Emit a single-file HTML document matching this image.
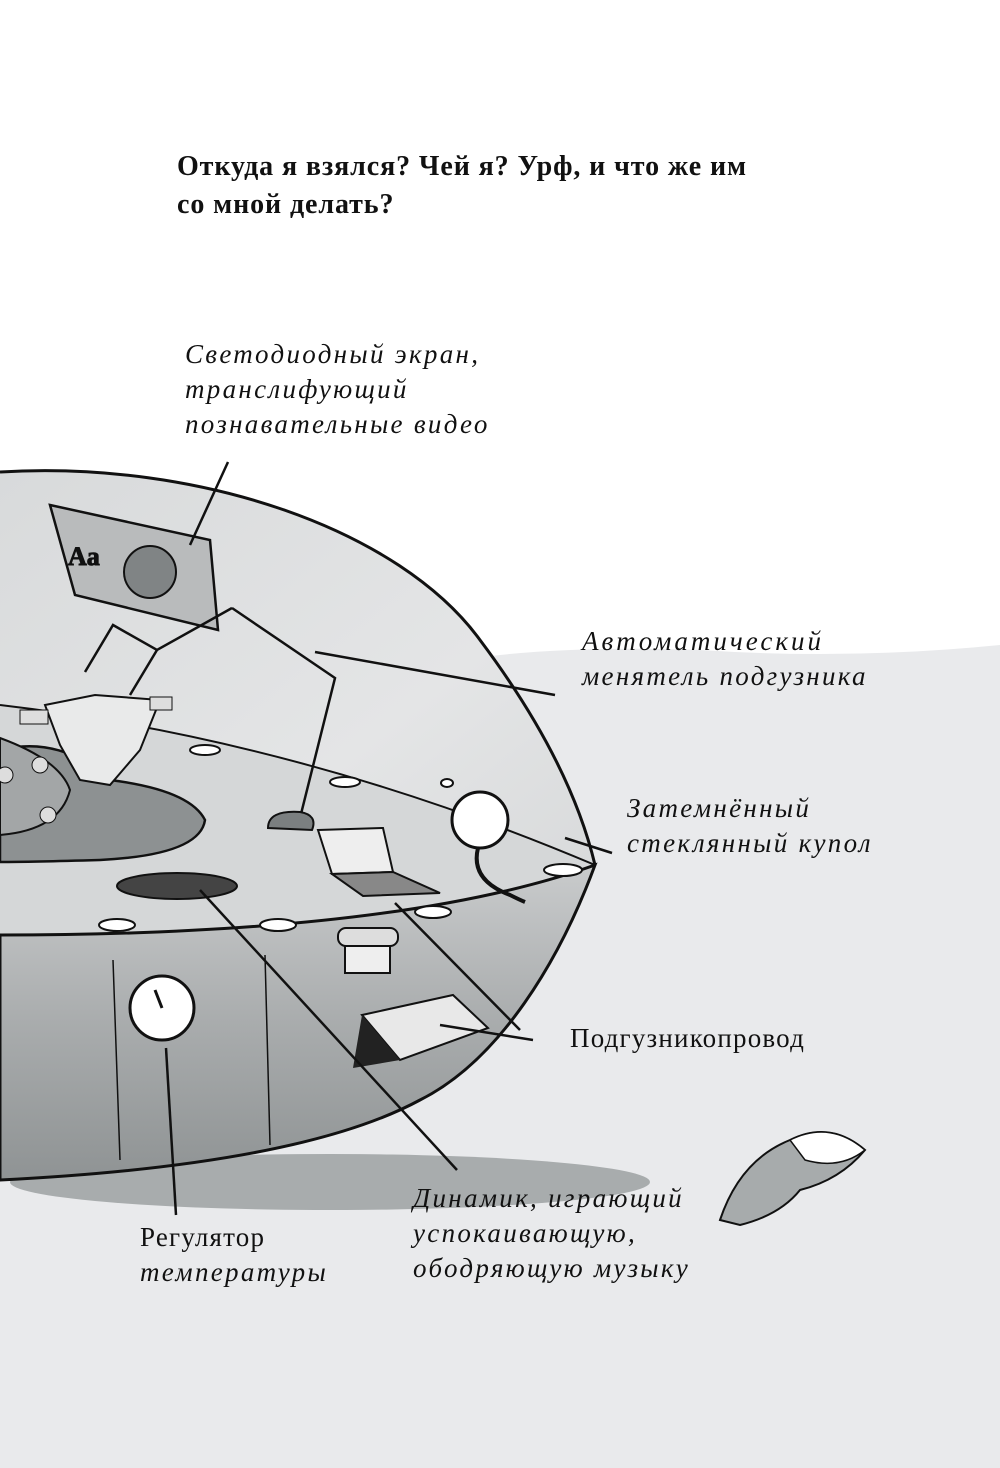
<!DOCTYPE html>
<html><head><meta charset="utf-8"><style>
html,body{margin:0;padding:0;background:#fff;width:1000px;height:1468px;overflow:hidden}
svg{display:block}
.t{font-family:"Liberation Serif","Noto Serif CJK SC",serif;fill:#111}
.i{font-style:italic;letter-spacing:2.3px}
</style></head><body>
<svg width="1000" height="1468" viewBox="0 0 1000 1468">
<defs>
<linearGradient id="body" x1="0" y1="0" x2="0" y2="1">
<stop offset="0" stop-color="#c9cbcc"/><stop offset="0.5" stop-color="#a9acad"/><stop offset="1" stop-color="#8f9394"/></linearGradient>
<linearGradient id="dome" x1="0" y1="0" x2="1" y2="1">
<stop offset="0" stop-color="#d8dadb"/><stop offset="0.6" stop-color="#e4e5e6"/><stop offset="1" stop-color="#d6d8d9"/></linearGradient>
</defs>
<path d="M0,690 L460,660 Q560,645 700,650 Q850,660 1000,645 L1000,1468 L0,1468 Z" fill="#e9eaec"/>
<ellipse cx="330" cy="1182" rx="320" ry="28" fill="#a8acad"/>
<path d="M0,472 C200,460 400,530 480,640 Q570,760 595,865 Q400,935 0,935 Z" fill="url(#dome)"/>
<path d="M0,705 Q300,740 595,865 Q400,935 0,935 Z" fill="#d5d7d8"/>
<path d="M0,935 Q400,935 595,865 C560,960 500,1060 420,1100 Q300,1165 0,1180 Z" fill="url(#body)" stroke="#111" stroke-width="3"/>
<path d="M0,472 C200,460 400,530 480,640 Q570,760 595,865" fill="none" stroke="#111" stroke-width="3"/>
<path d="M0,705 Q300,740 595,865" fill="none" stroke="#111" stroke-width="2"/>
<path d="M0,750 Q60,735 110,780 Q190,790 205,820 Q200,855 100,860 Q30,862 0,862 Z" fill="#8d9192" stroke="#111" stroke-width="2.5"/>
<path d="M0,738 Q60,760 70,790 Q60,830 0,835 Z" fill="#a3a6a7" stroke="#111" stroke-width="2"/>
<circle cx="40" cy="765" r="8" fill="#ddd" stroke="#111"/><circle cx="5" cy="775" r="8" fill="#ddd" stroke="#111"/><circle cx="48" cy="815" r="8" fill="#ddd" stroke="#111"/>
<line x1="113" y1="960" x2="120" y2="1160" stroke="#111" stroke-width="1.5"/>
<line x1="265" y1="955" x2="270" y2="1145" stroke="#111" stroke-width="1.5"/>
<g fill="#fff" stroke="#111" stroke-width="2">
<ellipse cx="205" cy="750" rx="15" ry="5"/><ellipse cx="345" cy="782" rx="15" ry="5"/><ellipse cx="563" cy="870" rx="19" ry="6"/>
<ellipse cx="117" cy="925" rx="18" ry="6"/><ellipse cx="278" cy="925" rx="18" ry="6"/><ellipse cx="433" cy="912" rx="18" ry="6"/><ellipse cx="447" cy="783" rx="6" ry="4"/>
</g>
<ellipse cx="177" cy="886" rx="60" ry="13" fill="#444" stroke="#111" stroke-width="2"/>
<path d="M318,830 L383,828 L393,872 L332,874 Z" fill="#eee" stroke="#111" stroke-width="2"/>
<path d="M332,874 L393,872 L440,893 L363,896 Z" fill="#888" stroke="#111" stroke-width="2"/>
<circle cx="480" cy="820" r="28" fill="#fff" stroke="#111" stroke-width="3"/>
<path d="M478,848 Q470,880 510,895 Q520,900 525,902" fill="none" stroke="#111" stroke-width="4"/>
<circle cx="162" cy="1008" r="32" fill="#fff" stroke="#111" stroke-width="3"/>
<line x1="162" y1="1008" x2="155" y2="990" stroke="#111" stroke-width="3"/>
<rect x="345" y="945" width="45" height="28" fill="#eee" stroke="#111" stroke-width="2"/>
<rect x="338" y="928" width="60" height="18" rx="8" fill="#ddd" stroke="#111" stroke-width="2"/>
<path d="M362,1015 L453,995 L488,1028 L400,1060 Z" fill="#e8e8e8" stroke="#111" stroke-width="2"/>
<path d="M362,1015 L400,1060 L353,1068 Z" fill="#222"/>
<path d="M50,505 L210,540 L218,630 L75,595 Z" fill="#b9bbbc" stroke="#111" stroke-width="2.5"/>
<circle cx="150" cy="572" r="26" fill="#808485" stroke="#111" stroke-width="2"/>
<text x="68" y="565" class="t" font-size="26" font-weight="bold" fill="#ddd" stroke="#111" stroke-width="1">Aa</text>
<g stroke="#111" stroke-width="2.5" fill="none">
<path d="M232,608 L335,678 L300,818"/><path d="M232,608 L157,650 L113,625 L85,672"/><path d="M157,650 L130,695"/>
</g>
<path d="M268,828 Q268,810 300,812 Q318,815 312,830 Z" fill="#7b7f80" stroke="#111" stroke-width="2"/>
<path d="M45,705 L95,695 L160,700 L140,750 L110,785 L80,780 L60,745 Z" fill="#e9eaea" stroke="#111" stroke-width="2"/>
<rect x="20" y="710" width="28" height="14" fill="#ddd" stroke="#111"/><rect x="150" y="697" width="22" height="13" fill="#ddd" stroke="#111"/>
<path d="M720,1220 Q740,1160 790,1140 Q830,1120 865,1150 Q840,1180 800,1190 Q780,1215 740,1225 Z" fill="#a7abac" stroke="#111" stroke-width="2"/>
<path d="M790,1140 Q830,1120 865,1150 Q840,1170 805,1160 Z" fill="#fff" stroke="#111" stroke-width="1.5"/>
<g stroke="#111" stroke-width="2.5" fill="none">
<line x1="228" y1="462" x2="190" y2="545"/>
<line x1="315" y1="652" x2="555" y2="695"/>
<line x1="565" y1="838" x2="612" y2="853"/>
<line x1="395" y1="903" x2="520" y2="1030"/>
<line x1="440" y1="1025" x2="533" y2="1040"/>
<line x1="200" y1="890" x2="457" y2="1170"/>
<line x1="166" y1="1048" x2="176" y2="1215"/>
</g>
<text class="t" font-size="28" font-weight="bold" x="177" y="175" letter-spacing="0.9">Откуда я взялся? Чей я? Урф, и что же им</text>
<text class="t" font-size="28" font-weight="bold" x="177" y="213" letter-spacing="0.9">со мной делать?</text>
<g class="t i" font-size="27">
<text x="185" y="363">Светодиодный экран,</text>
<text x="185" y="398">транслифующий</text>
<text x="185" y="433">познавательные видео</text>
<text x="582" y="650" letter-spacing="3">Автоматический</text>
<text x="582" y="685">менятель подгузника</text>
<text x="627" y="817">Затемнённый</text>
<text x="627" y="852">стеклянный купол</text>
<text x="413" y="1207">Динамик, играющий</text>
<text x="413" y="1242">успокаивающую,</text>
<text x="413" y="1277">ободряющую музыку</text>
<text x="140" y="1281">температуры</text>
</g>
<text class="t" font-size="27" x="570" y="1047" letter-spacing="1.2">Подгузникопровод</text>
<text class="t" font-size="27" x="140" y="1246" letter-spacing="1.2">Регулятор</text>
</svg>
</body></html>
